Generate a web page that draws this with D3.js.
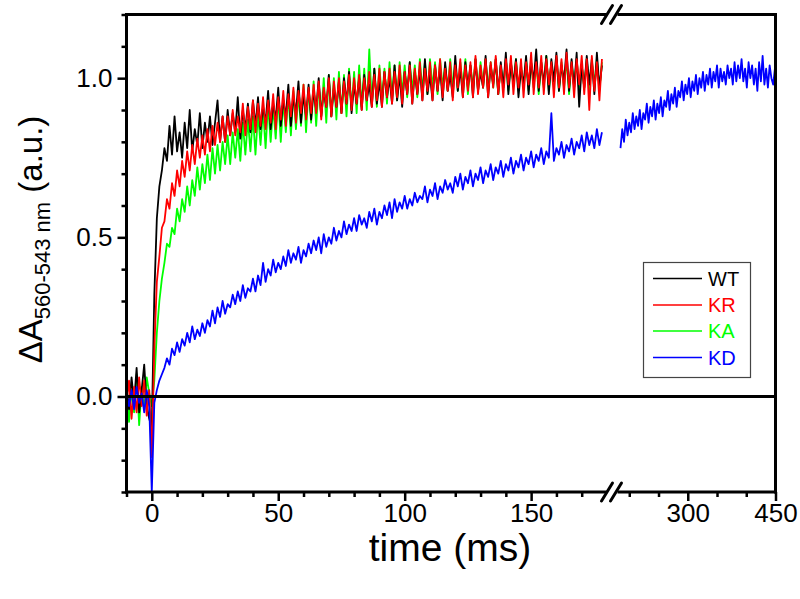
<!DOCTYPE html>
<html><head><meta charset="utf-8">
<script src="https://cdn.jsdelivr.net/npm/d3@7"></script>
<style>body{margin:0;background:#fff}svg{display:block}text{font-family:Arial,"Liberation Sans",sans-serif}</style>
</head><body>
<svg id="c" width="800" height="599"></svg>
<script>
// time grids (ms)
const times1 = d3.range(-10, 179);      // first panel, 1 ms sampling
const times2 = d3.range(185, 450, 3);   // second panel (after axis break), KD only

const WT = [
 0.03,-0.04,0.06,-0.02,0.09,-0.05,0.02,0.10,-0.03,-0.07,
 -0.10,
 0.32,0.56,0.66,0.71,0.78,0.74,0.85,0.76,0.88,0.77,
 0.83,0.75,0.86,0.78,0.90,0.77,0.84,0.79,0.89,0.78,
 0.86,0.80,0.88,0.79,0.86,0.93,0.80,0.88,0.80,0.90,
 0.82,0.89,0.83,0.94,0.81,0.90,0.84,0.92,0.83,0.93,
 0.85,0.94,0.84,0.91,0.86,0.96,0.84,0.92,0.87,0.97,
 0.85,0.93,0.88,0.98,0.85,0.94,0.89,0.99,0.86,0.95,
 0.88,0.98,0.87,0.96,0.90,1.00,0.88,0.96,0.91,1.01,
 0.88,0.97,0.91,0.99,0.89,1.00,0.92,1.02,0.89,0.98,
 0.92,1.00,0.90,1.01,0.93,0.98,0.91,1.03,0.92,0.99,
 0.91,1.02,0.94,1.00,0.92,1.04,0.93,1.01,0.91,1.02,
 0.95,1.05,0.92,1.02,0.95,1.03,0.93,1.06,0.95,1.01,
 0.93,1.04,0.96,1.03,0.93,1.05,0.96,1.01,0.94,1.07,
 0.96,1.03,0.94,1.05,0.97,1.04,0.94,1.06,0.96,1.02,
 0.97,1.07,0.94,1.04,0.98,1.06,0.95,1.05,0.97,1.08,
 0.95,1.05,0.98,1.06,0.94,1.03,0.98,1.07,0.95,1.05,
 0.99,1.09,0.96,1.05,0.98,1.07,0.95,1.06,0.99,1.08,
 0.96,1.04,0.99,1.09,0.96,1.06,0.97,1.08,0.91,1.04,
 0.97,1.07,0.98,1.06,0.95,1.08,0.97,1.04
];
const KR = [
 -0.02,0.05,-0.07,0.03,-0.05,0.06,-0.03,0.05,-0.06,0.02,
 -0.19,
 0.15,0.36,0.44,0.53,0.55,0.62,0.59,0.67,0.63,0.71,
 0.66,0.74,0.69,0.77,0.71,0.79,0.73,0.81,0.75,0.82,
 0.76,0.84,0.77,0.85,0.79,0.86,0.80,0.88,0.80,0.88,
 0.82,0.90,0.82,0.88,0.83,0.92,0.82,0.91,0.84,0.93,
 0.83,0.92,0.85,0.94,0.84,0.93,0.86,0.95,0.84,0.94,
 0.87,0.96,0.85,0.95,0.88,0.97,0.86,0.96,0.89,0.98,
 0.87,0.97,0.89,0.98,0.89,0.99,0.87,0.97,0.91,1.00,
 0.88,0.99,0.91,1.00,0.89,0.99,0.92,1.01,0.90,1.00,
 0.92,1.01,0.90,1.00,0.93,1.02,0.91,1.01,0.93,1.03,
 0.91,1.02,0.94,1.03,0.92,1.02,0.94,1.04,0.92,1.02,
 0.95,1.04,0.92,1.03,0.95,1.05,0.93,1.03,0.96,1.05,
 0.93,1.04,0.96,1.06,0.94,1.03,0.96,1.05,0.93,1.04,
 0.97,1.06,0.94,1.04,0.96,1.05,0.94,1.07,0.95,1.04,
 0.97,1.06,0.94,1.05,0.97,1.07,0.95,1.04,0.94,1.06,
 0.98,1.07,0.95,1.05,0.97,1.06,0.94,1.05,0.98,1.08,
 0.95,1.05,0.97,1.07,0.95,1.06,0.98,1.05,0.94,1.07,
 0.97,1.06,0.95,1.08,0.97,1.05,0.94,1.06,0.98,1.07,
 0.95,1.06,0.90,1.07,0.96,1.05,0.93,1.06
];
const KA = [
 0.04,-0.08,0.02,-0.05,0.07,-0.09,0.03,-0.04,0.06,0.01,
 -0.03,
 0.05,0.20,0.30,0.37,0.42,0.48,0.47,0.53,0.51,0.59,
 0.55,0.62,0.58,0.66,0.60,0.68,0.63,0.72,0.65,0.73,
 0.67,0.76,0.68,0.78,0.70,0.79,0.71,0.80,0.73,0.82,
 0.73,0.83,0.75,0.84,0.74,0.86,0.76,0.87,0.77,0.88,
 0.76,0.89,0.79,0.90,0.78,0.92,0.80,0.91,0.81,0.94,
 0.80,0.93,0.83,0.95,0.82,0.96,0.84,0.95,0.85,0.98,
 0.83,0.97,0.86,0.99,0.85,0.98,0.88,1.00,0.86,1.01,
 0.88,1.00,0.87,1.02,0.89,1.01,0.88,1.03,0.90,1.02,
 0.89,1.04,0.91,1.03,0.90,1.09,0.92,1.03,0.91,1.04,
 0.93,1.03,0.92,1.05,0.94,1.04,0.93,1.05,0.95,1.04,
 0.94,1.05,0.96,1.04,0.94,1.06,0.96,1.05,0.95,1.06,
 0.97,1.05,0.95,1.06,0.97,1.04,0.96,1.06,0.97,1.05,
 0.96,1.05,0.97,1.06,0.95,1.04,0.97,1.06,0.96,1.05,
 0.97,1.06,0.96,1.05,0.97,1.06,0.95,1.04,0.97,1.06,
 0.96,1.05,0.98,1.06,0.96,1.04,0.97,1.06,0.96,1.05,
 0.97,1.06,0.95,1.05,0.97,1.07,0.96,1.05,0.98,1.06,
 0.96,1.05,0.97,1.06,0.95,1.05,0.97,1.06,0.96,1.04,
 0.97,1.06,0.96,1.05,0.98,1.06,0.96,1.05
];
const KD = [
 0.01,-0.03,0.02,-0.04,0.03,-0.02,0.01,-0.05,0.02,-0.03,
 -0.30,
 -0.02,0.02,0.05,0.07,0.09,0.12,0.10,0.15,0.13,0.17,
 0.14,0.18,0.16,0.20,0.17,0.22,0.18,0.21,0.19,0.23,
 0.20,0.24,0.22,0.27,0.23,0.28,0.25,0.30,0.26,0.29,
 0.28,0.32,0.29,0.33,0.30,0.35,0.31,0.34,0.33,0.37,
 0.33,0.38,0.35,0.42,0.36,0.40,0.38,0.43,0.39,0.42,
 0.40,0.44,0.41,0.46,0.42,0.45,0.43,0.47,0.42,0.46,
 0.44,0.48,0.45,0.49,0.46,0.50,0.45,0.51,0.47,0.50,
 0.48,0.53,0.49,0.52,0.50,0.55,0.51,0.54,0.52,0.56,
 0.52,0.57,0.54,0.56,0.53,0.58,0.55,0.59,0.54,0.58,
 0.56,0.60,0.57,0.61,0.56,0.62,0.58,0.61,0.59,0.63,
 0.59,0.62,0.60,0.64,0.61,0.63,0.62,0.66,0.61,0.65,
 0.63,0.67,0.62,0.66,0.64,0.68,0.65,0.67,0.64,0.69,
 0.66,0.70,0.65,0.69,0.67,0.71,0.66,0.70,0.68,0.72,
 0.67,0.71,0.69,0.73,0.68,0.72,0.70,0.74,0.69,0.73,
 0.71,0.75,0.70,0.74,0.72,0.76,0.71,0.75,0.73,0.77,
 0.72,0.76,0.74,0.78,0.73,0.77,0.75,0.89,0.74,0.78,
 0.76,0.80,0.75,0.79,0.77,0.81,0.76,0.80,0.78,0.82,
 0.77,0.83,0.79,0.82,0.78,0.84,0.79,0.83
];
const KD_late = [
 0.78,0.84,0.80,0.87,0.82,0.86,0.83,0.89,0.84,0.88,
 0.85,0.90,0.84,0.89,0.87,0.92,0.86,0.91,0.88,0.93,
 0.87,0.92,0.89,0.94,0.88,0.93,0.91,0.96,0.90,0.95,
 0.92,0.97,0.91,0.96,0.94,0.99,0.93,0.98,0.95,1.00,
 0.94,0.99,0.96,1.01,0.95,1.00,0.97,1.02,0.96,1.01,
 0.98,1.03,0.97,1.02,0.99,1.04,0.97,1.03,0.99,1.02,
 0.98,1.04,1.00,1.03,0.98,1.05,0.99,1.04,1.00,1.06,
 0.99,1.03,0.97,1.05,1.00,1.04,0.98,1.03,0.96,1.05,
 0.99,1.07,0.98,1.03,0.97,1.04,1.00,0.98,1.03
];

const seriesNames = ["WT","KR","KA","KD"];
const seriesColors = ["#000000","#ff0000","#00ff00","#0000ff"];
const xMajor = [0,50,100,150,300,450];
const xMinor = [-10,10,20,30,40,60,70,80,90,110,120,130,140,160,170,200,250,350,400];
const yMajor = [0,0.5,1.0];
const yMinor = [-0.3,-0.2,-0.1,0.1,0.2,0.3,0.4,0.6,0.7,0.8,0.9,1.1,1.2];

const svg = d3.select("#c");
const L = 126.5, R = 775.5, T = 14.5, B = 492;
const BRK1 = 605, BRK2 = 619;
const x = d3.scaleLinear().domain([-10,180,185,450]).range([L,607,620.5,R]);
const y = d3.scaleLinear().domain([-0.3,1.2]).range([B,T]);
const line = d3.line().x(d => x(d[0])).y(d => y(d[1]));

// data
const drawOrder = [["KA",KA],["WT",WT],["KR",KR],["KD",KD]];
drawOrder.forEach(([name, vals]) => {
  const col = seriesColors[seriesNames.indexOf(name)];
  svg.append("path").datum(times1.map((t,i) => [t, vals[i]]))
    .attr("d", line).attr("fill","none").attr("stroke",col).attr("stroke-width",1.8)
    .attr("stroke-linejoin","round");
});
svg.append("path").datum(times2.map((t,i) => [t, KD_late[i]]))
  .attr("d", line).attr("fill","none").attr("stroke",seriesColors[3]).attr("stroke-width",1.8)
  .attr("stroke-linejoin","round");

// zero line
svg.append("line").attr("x1",L).attr("x2",R).attr("y1",y(0)).attr("y2",y(0))
  .attr("stroke","#000").attr("stroke-width",3);

// axes ticks
function styleAxis(g){
  g.select(".domain").remove();
  g.selectAll("line").attr("stroke","#000").attr("stroke-width",2.5);
  g.selectAll("text").attr("font-size",26).attr("fill","#000")
    .attr("font-family",'Arial,"Liberation Sans",sans-serif');
}
svg.append("g").attr("transform",`translate(0,${B})`)
  .call(d3.axisBottom(x).tickValues(xMajor).tickSize(9).tickSizeOuter(0).tickFormat(d3.format("d")))
  .call(styleAxis);
svg.append("g").attr("transform",`translate(0,${B})`)
  .call(d3.axisBottom(x).tickValues(xMinor).tickSize(5).tickSizeOuter(0).tickFormat(""))
  .call(styleAxis);
svg.append("g").attr("transform",`translate(${L},0)`)
  .call(d3.axisLeft(y).tickValues(yMajor).tickSize(9).tickPadding(5).tickSizeOuter(0).tickFormat(d3.format(".1f")))
  .call(styleAxis);
svg.append("g").attr("transform",`translate(${L},0)`)
  .call(d3.axisLeft(y).tickValues(yMinor).tickSize(5).tickSizeOuter(0).tickFormat(""))
  .call(styleAxis);

// frame
const fr = svg.append("g").attr("stroke","#000").attr("stroke-width",3).attr("stroke-linecap","square");
fr.append("line").attr("x1",L).attr("x2",L).attr("y1",T).attr("y2",B);
fr.append("line").attr("x1",R).attr("x2",R).attr("y1",T).attr("y2",B);
[T,B].forEach(yy => {
  fr.append("line").attr("x1",L).attr("x2",BRK1).attr("y1",yy).attr("y2",yy);
  fr.append("line").attr("x1",BRK2).attr("x2",R).attr("y1",yy).attr("y2",yy);
  [607,616].forEach(cx => {
    svg.append("line").attr("x1",cx-5.5).attr("y1",yy+9).attr("x2",cx+5.5).attr("y2",yy-9)
      .attr("stroke","#000").attr("stroke-width",3).attr("stroke-linecap","round");
  });
});

// legend
const lg = svg.append("g");
lg.append("rect").attr("x",643.5).attr("y",262.5).attr("width",107).attr("height",115)
  .attr("fill","#fff").attr("stroke","#444").attr("stroke-width",1.2);
const rowY = [278.5,305,331,357.5];
seriesNames.forEach((n,i) => {
  lg.append("line").attr("x1",653).attr("x2",702).attr("y1",rowY[i]).attr("y2",rowY[i])
    .attr("stroke",seriesColors[i]).attr("stroke-width",1.5);
  lg.append("text").attr("x",708).attr("y",rowY[i]).attr("dy","0.36em")
    .attr("font-size",20).attr("fill",seriesColors[i]).text(n);
});

// titles
svg.append("text").attr("x",450).attr("y",561).attr("text-anchor","middle")
  .attr("font-size",39).attr("fill","#000").text("time (ms)");
const yt = svg.append("text").attr("transform","translate(42,239.5) rotate(-90)")
  .attr("text-anchor","middle").attr("font-size",33).attr("fill","#000");
yt.append("tspan").text("\u0394A");
yt.append("tspan").attr("font-size",22).attr("dy",8).text("560-543 nm");
yt.append("tspan").attr("dy",-8).text(" (a.u.)");
</script>
</body></html>
